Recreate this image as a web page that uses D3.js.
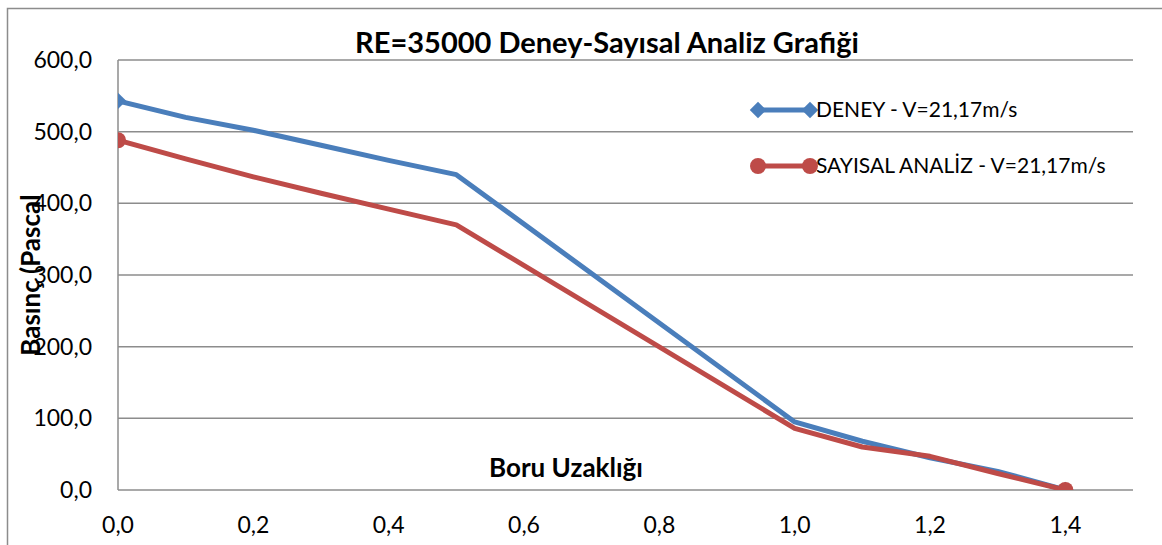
<!DOCTYPE html>
<html>
<head>
<meta charset="utf-8">
<style>
    body { margin: 0; background: #fff; }
    text { font-family: Lato, "Noto Sans", sans-serif; fill: #000; }
    .grid line { stroke: #8c8c8c; stroke-width: 1.5; }
    .tick-label { font-size: 23px; }
    .title { font-size: 29px; font-weight: bold; }
    .axis-title { font-size: 26px; font-weight: bold; }
    .legend-text { font-size: 21px; }
</style>
</head>
<body>
<svg id="chart" width="1162" height="545"></svg>
<script src="https://cdn.jsdelivr.net/npm/d3@7"></script>
<script>
    // data
    let distances = [0, 0.1, 0.2, 0.3, 0.4, 0.5, 1.0, 1.1, 1.2, 1.3, 1.4]
    let deneyValues = [543, 520, 502, 481, 460, 440, 95, 68, 45, 26, 0]
    let sayisalValues = [488, 462, 437, 414, 392, 370, 86, 60, 47, 23, 0]
    let xTicks = [0, 0.2, 0.4, 0.6, 0.8, 1.0, 1.2, 1.4]
    let yTicks = [0, 100, 200, 300, 400, 500, 600]
    let seriesNames = ["DENEY - V=21,17m/s", "SAYISAL ANALİZ - V=21,17m/s"]
    let colors = ["#4a7ebb", "#be4b48"]

    let svg = d3.select("#chart")
    let plotLeft = 118, plotRight = 1133, plotTop = 60, plotBottom = 490

    let x = d3.scaleLinear().domain([0, 1.5]).range([plotLeft, plotRight])
    let y = d3.scaleLinear().domain([0, 600]).range([plotBottom, plotTop])
    let fmt = v => d3.format(".1f")(v).replace(".", ",")

    // outer chart border
    svg.append("path")
        .attr("d", "M7.5,545 L7.5,8.5 L1162,8.5")
        .attr("fill", "none").attr("stroke", "#8c8c8c").attr("stroke-width", 1.5)

    // gridlines
    let grid = svg.append("g").attr("class", "grid")
    grid.selectAll("line").data(yTicks).enter().append("line")
        .attr("x1", plotLeft).attr("x2", plotRight)
        .attr("y1", d => y(d)).attr("y2", d => y(d))
    grid.append("line").attr("x1", plotLeft).attr("x2", plotLeft).attr("y1", plotTop).attr("y2", plotBottom)

    svg.selectAll("text.ylab").data(yTicks).enter().append("text")
        .attr("class", "tick-label ylab")
        .attr("x", 92).attr("y", d => y(d)).attr("dy", "0.35em")
        .attr("text-anchor", "end").text(fmt)

    svg.selectAll("text.xlab").data(xTicks).enter().append("text")
        .attr("class", "tick-label xlab")
        .attr("x", d => x(d)).attr("y", 533)
        .attr("text-anchor", "middle").text(fmt)

    // clip for plot area
    svg.append("clipPath").attr("id", "plotClip").append("rect")
        .attr("x", plotLeft).attr("y", plotTop)
        .attr("width", plotRight - plotLeft).attr("height", plotBottom - plotTop)

    let line = d3.line().x(d => x(d[0])).y(d => y(d[1]))
    let allSeries = [deneyValues, sayisalValues]
    // diamond = square turned 45 degrees, like the Excel marker
    let symbols = [d3.symbolSquare, d3.symbolCircle]
    let symSizes = [135, 200]
    let symRot = [45, 0]

    let plot = svg.append("g").attr("clip-path", "url(#plotClip)")
    allSeries.forEach((vals, i) => {
        let pts = distances.map((d, j) => [d, vals[j]])
        plot.append("path").datum(pts)
            .attr("d", line).attr("fill", "none")
            .attr("stroke", colors[i]).attr("stroke-width", 5)
            .attr("stroke-linejoin", "round")
        plot.selectAll("path.m" + i).data([pts[0], pts[pts.length - 1]]).enter().append("path")
            .attr("class", "m" + i)
            .attr("d", d3.symbol().type(symbols[i]).size(symSizes[i]))
            .attr("transform", d => `translate(${x(d[0])},${y(d[1])}) rotate(${symRot[i]})`)
            .attr("fill", colors[i])
    })

    // legend
    let legendY = [110, 166]
    seriesNames.forEach((name, i) => {
        let g = svg.append("g")
        g.append("line").attr("x1", 758).attr("x2", 810).attr("y1", legendY[i]).attr("y2", legendY[i])
            .attr("stroke", colors[i]).attr("stroke-width", 5)
        g.selectAll("path").data([758, 810]).enter().append("path")
            .attr("d", d3.symbol().type(symbols[i]).size(symSizes[i]))
            .attr("transform", d => `translate(${d},${legendY[i]}) rotate(${symRot[i]})`)
            .attr("fill", colors[i])
        g.append("text").attr("class", "legend-text")
            .attr("x", 816).attr("y", legendY[i]).attr("dy", "0.35em").text(name)
    })

    // titles
    svg.append("text").attr("class", "title")
        .attr("x", 607).attr("y", 53).attr("text-anchor", "middle")
        .text("RE=35000 Deney-Sayısal Analiz Grafiği")
    svg.append("text").attr("class", "axis-title")
        .attr("x", 566).attr("y", 477).attr("text-anchor", "middle")
        .text("Boru Uzaklığı")
    svg.append("text").attr("class", "axis-title")
        .attr("transform", "translate(40,275) rotate(-90)")
        .attr("text-anchor", "middle")
        .text("Basınç (Pascal")
</script>
</body>
</html>
